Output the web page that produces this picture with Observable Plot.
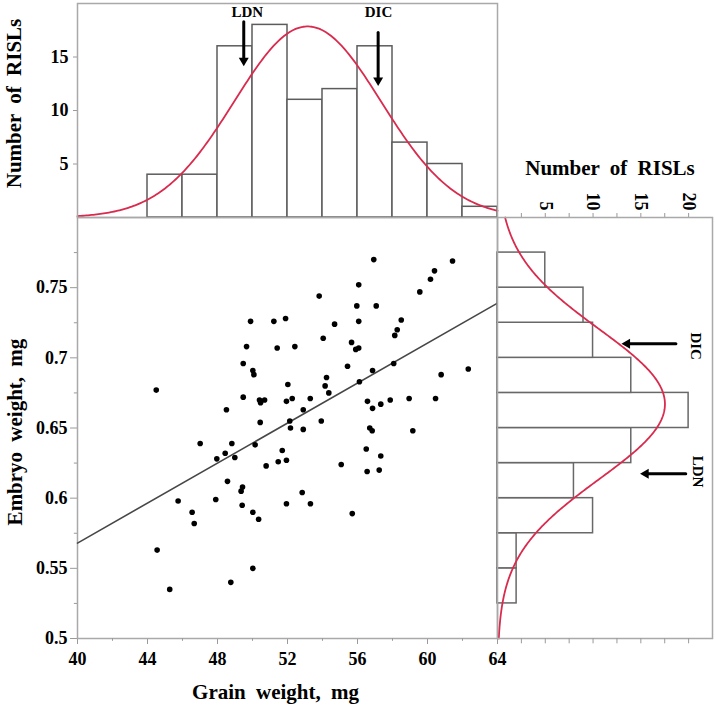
<!DOCTYPE html>
<html>
<head>
<meta charset="utf-8">
<script src="https://cdn.jsdelivr.net/npm/d3@7"></script>
<script src="https://cdn.jsdelivr.net/npm/@observablehq/plot@0.6"></script>
<style>
html, body { margin: 0; padding: 0; background: #fff; }
#chart { position: relative; width: 715px; height: 705px; overflow: hidden; background: #fff; }
#chart svg { position: absolute; left: 0; top: 0; }
#chart g[aria-label^="x-axis"] line, #chart g[aria-label^="x-axis"] path,
#chart g[aria-label^="y-axis"] line, #chart g[aria-label^="y-axis"] path { stroke: #9a9a9a; }
#chart text { word-spacing: 5px; }
</style>
</head>
<body>
<div id="chart"></div>
<script>
// ---------- data ----------
const grainWeight = [
  44.50, 49.89, 51.22, 51.89, 49.66, 51.41, 52.42, 49.47, 50.02, 50.08,
  52.02, 49.47, 50.40, 50.46, 50.69, 51.94, 52.27, 53.30, 48.51, 52.90,
  52.13, 50.44, 52.17, 52.90, 56.93, 61.43, 60.40, 60.17, 59.56, 56.07,
  53.81, 55.96, 57.07, 54.69, 56.07, 58.50, 58.27, 58.13, 54.04, 55.66,
  55.90, 56.07, 55.43, 56.86, 58.07, 60.78, 62.33, 54.23, 54.15, 54.36,
  56.11, 56.57, 56.86, 57.33, 57.87, 58.95, 60.46, 53.93, 56.70, 56.84,
  59.16, 47.01, 48.82, 50.15, 48.44, 47.96, 48.99, 51.70, 51.47, 51.94,
  50.78, 48.57, 49.43, 49.35, 52.84, 53.31, 45.75, 47.90, 49.41, 51.94,
  46.55, 50.02, 46.67, 50.35, 44.55, 50.02, 45.27, 48.76, 56.50, 57.33,
  55.07, 56.55, 57.24, 55.70
];
const embryoWeight = [
  0.677, 0.726, 0.726, 0.728, 0.708, 0.707, 0.708, 0.696, 0.691, 0.688,
  0.681, 0.672, 0.670, 0.668, 0.670, 0.669, 0.671, 0.671, 0.663, 0.663,
  0.655, 0.654, 0.650, 0.649, 0.770, 0.769, 0.762, 0.756, 0.747, 0.752,
  0.744, 0.737, 0.737, 0.724, 0.726, 0.727, 0.720, 0.716, 0.714, 0.711,
  0.706, 0.707, 0.694, 0.691, 0.696, 0.688, 0.692, 0.686, 0.680, 0.675,
  0.683, 0.669, 0.664, 0.667, 0.670, 0.671, 0.671, 0.655, 0.650, 0.648,
  0.648, 0.639, 0.639, 0.638, 0.632, 0.628, 0.629, 0.634, 0.626, 0.627,
  0.623, 0.612, 0.608, 0.605, 0.604, 0.596, 0.598, 0.599, 0.595, 0.596,
  0.590, 0.590, 0.582, 0.585, 0.563, 0.550, 0.535, 0.540, 0.635, 0.630,
  0.624, 0.619, 0.620, 0.589
];

// regression line end points
const regGrain = [40, 64];
const regEmbryo = [0.568, 0.739];

// grain-weight histogram (top)
const grainBinStart = [44, 46, 48, 50, 52, 54, 56, 58, 60, 62];
const grainBinEnd   = [46, 48, 50, 52, 54, 56, 58, 60, 62, 64];
const grainCounts   = [4, 4, 16, 18, 11, 12, 16, 7, 5, 1];
const grainFit = { mean: 53.15, sd: 4.2, n: 94, binWidth: 2 };

// embryo-weight histogram (right)
const embBinStart = [0.525, 0.55, 0.575, 0.6, 0.625, 0.65, 0.675, 0.7, 0.725, 0.75];
const embBinEnd   = [0.55, 0.575, 0.6, 0.625, 0.65, 0.675, 0.7, 0.725, 0.75, 0.775];
const embCounts   = [2, 2, 10, 8, 14, 20, 14, 10, 9, 5];
const embFit = { mean: 0.667, sd: 0.0535, n: 94, binWidth: 0.025 };

// ticks
const xMajorTicks = [40, 44, 48, 52, 56, 60, 64];
const xMinorTicks = [42, 46, 50, 54, 58, 62];
const yMajorTicks = [0.5, 0.55, 0.6, 0.65, 0.7, 0.75];
const yMinorTicks = [0.525, 0.575, 0.625, 0.675, 0.725, 0.775];
const topCountTicks = [5, 10, 15];
const rightCountTicks = [2.5, 5, 7.5, 10, 12.5, 15, 17.5, 20];
const rightCountLabels = [5, 10, 15, 20];

// annotations
const arrowLabels = ["LDN", "DIC"];
const topArrowGrain = [49.5, 57.18];
const topArrowFrom = [18.3, 17.3];
const topArrowTo = [14.2, 12.35];
const topLabelGrain = [49.7, 57.2];
const topLabelCount = [19.15, 19.15];

const rightLabels = ["DIC", "LDN"];
const rightArrowEmbryo = [0.710, 0.6174];
const rightArrowFrom = [18.67, 19.7];
const rightArrowTo = [13.05, 15.0];
const rightLabelCount = [20.8, 20.97];
const rightLabelEmbryo = [0.7083, 0.619];

// ---------- derived tables ----------
const points = grainWeight.map((g, i) => ({ g, e: embryoWeight[i] }));
const regLine = regGrain.map((g, i) => ({ g, e: regEmbryo[i] }));
const grainBins = grainCounts.map((c, i) => ({ x1: grainBinStart[i], x2: grainBinEnd[i], count: c }));
const embBins = embCounts.map((c, i) => ({ y1: embBinStart[i], y2: embBinEnd[i], count: c }));
const normal = (v, f) => f.n * f.binWidth / (f.sd * Math.sqrt(2 * Math.PI)) * Math.exp(-0.5 * ((v - f.mean) / f.sd) ** 2);
const grainCurve = d3.range(40, 64.001, 0.1).map(x => ({ x, y: normal(x, grainFit) }));
const embCurve = d3.range(0.5, 0.8001, 0.001).map(y => ({ y, x: normal(y, embFit) }));
const topArrows = arrowLabels.map((label, i) => ({
  label, x: topArrowGrain[i], y1: topArrowFrom[i], y2: topArrowTo[i], tx: topLabelGrain[i], ty: topLabelCount[i]
}));
const rightArrows = rightLabels.map((label, i) => ({
  label, y: rightArrowEmbryo[i], x1: rightArrowFrom[i], x2: rightArrowTo[i], tx: rightLabelCount[i], ty: rightLabelEmbryo[i]
}));

// ---------- styles ----------
const W = 715, H = 705;
const baseStyle = {
  fontFamily: '"Liberation Serif", "Times New Roman", serif',
  fontSize: "18px",
  fontWeight: "bold",
  background: "transparent",
  overflow: "visible",
  color: "black"
};
const frameGray = "#a9a9a9";
const red = "#d92b4e";
const headR = 3.7;

// ---------- scatter ----------
const scatter = Plot.plot({
  width: W, height: H,
  marginLeft: 77, marginRight: 218, marginTop: 217, marginBottom: 67,
  style: baseStyle,
  x: { domain: [40, 64], ticks: xMajorTicks, tickSize: 6, tickPadding: 8, label: null },
  y: { domain: [0.5, 0.8], ticks: yMajorTicks, tickSize: 7, tickPadding: 3, label: null, tickFormat: d => String(d) },
  marks: [
    Plot.frame({ stroke: frameGray, strokeWidth: 1.5 }),
    Plot.ruleX(xMinorTicks, { x: d => d, y1: 0.5, y2: 0.498, stroke: "#9a9a9a" }),
    Plot.ruleY(yMinorTicks, { y: d => d, x1: 40, x2: 39.82, stroke: "#9a9a9a" }),
    Plot.line(regLine, { x: "g", y: "e", stroke: "#474747", strokeWidth: 1.6 }),
    Plot.dot(points, { x: "g", y: "e", r: 2.8, fill: "black", stroke: "none" }),
    Plot.text(["Grain weight, mg"], { frameAnchor: "bottom", lineAnchor: "middle", textAnchor: "middle", dy: 54, dx: -12, fontSize: 21, fontWeight: "bold" }),
    Plot.text(["Embryo weight, mg"], { frameAnchor: "left", textAnchor: "middle", lineAnchor: "middle", rotate: -90, dx: -62, dy: 4, fontSize: 21, fontWeight: "bold" })
  ]
});

// ---------- top histogram ----------
const topHist = Plot.plot({
  width: W, height: H,
  marginLeft: 77, marginRight: 218, marginTop: 3, marginBottom: 488,
  style: baseStyle,
  x: { domain: [40, 64], axis: null },
  y: { domain: [0, 20], ticks: topCountTicks, tickSize: 4, tickPadding: 5, label: null },
  marks: [
    Plot.rectY(grainBins, { x1: "x1", x2: "x2", y1: 0, y2: "count", fill: "white", stroke: "#5c5c5c", strokeWidth: 1.5 }),
    Plot.line(grainCurve, { x: "x", y: "y", stroke: red, strokeWidth: 1.8 }),
    Plot.frame({ stroke: frameGray, strokeWidth: 1.5 }),
    Plot.arrow(topArrows, { x1: "x", x2: "x", y1: "y1", y2: "y2", stroke: "black", strokeWidth: 3, headLength: 0, insetEnd: 5 }),
    Plot.dot(topArrows, { x: "x", y: "y2", symbol: "triangle", rotate: 180, r: headR, fill: "black", stroke: "none", dy: -5 }),
    Plot.text(topArrows, { x: "tx", y: "ty", text: "label", fontSize: 15, fontWeight: "bold" }),
    Plot.text(["Number of RISLs"], { frameAnchor: "left", textAnchor: "middle", lineAnchor: "middle", rotate: -90, dx: -63, dy: -7, fontSize: 21, fontWeight: "bold" })
  ]
});

// ---------- right histogram ----------
const rightHist = Plot.plot({
  width: W, height: H,
  marginLeft: 497, marginRight: 3, marginTop: 217, marginBottom: 67,
  style: baseStyle,
  x: { domain: [0, 22.5], axis: "top", ticks: rightCountTicks, tickSize: 5, tickFormat: () => "", label: null },
  y: { domain: [0.5, 0.8], axis: null },
  marks: [
    Plot.rectX(embBins, { y1: "y1", y2: "y2", x1: 0, x2: "count", fill: "white", stroke: "#686868", strokeWidth: 1.5 }),
    Plot.line(embCurve, { x: "x", y: "y", stroke: red, strokeWidth: 1.8 }),
    Plot.frame({ stroke: frameGray, strokeWidth: 1.5 }),
    Plot.ruleX(rightCountTicks, { x: d => d, y1: 0.5, y2: 0.4962, stroke: "#9a9a9a" }),
    Plot.text(rightCountLabels, { x: d => d, frameAnchor: "top", dy: -7, rotate: 90, textAnchor: "end", lineAnchor: "middle", fontSize: 18, fontWeight: "bold" }),
    Plot.arrow(rightArrows, { x1: "x1", x2: "x2", y1: "y", y2: "y", stroke: "black", strokeWidth: 3, headLength: 0, insetEnd: 5 }),
    Plot.dot(rightArrows, { x: "x2", y: "y", symbol: "triangle", rotate: -90, r: headR, fill: "black", stroke: "none", dx: 5 }),
    Plot.text(rightArrows, { x: "tx", y: "ty", text: "label", rotate: 90, lineAnchor: "middle", fontSize: 15, fontWeight: "bold" }),
    Plot.text(["Number of RISLs"], { frameAnchor: "top", lineAnchor: "middle", textAnchor: "middle", dy: -49, dx: 5, fontSize: 21, fontWeight: "bold" })
  ]
});

const chart = document.getElementById("chart");
chart.append(scatter, topHist, rightHist);
</script>
</body>
</html>
